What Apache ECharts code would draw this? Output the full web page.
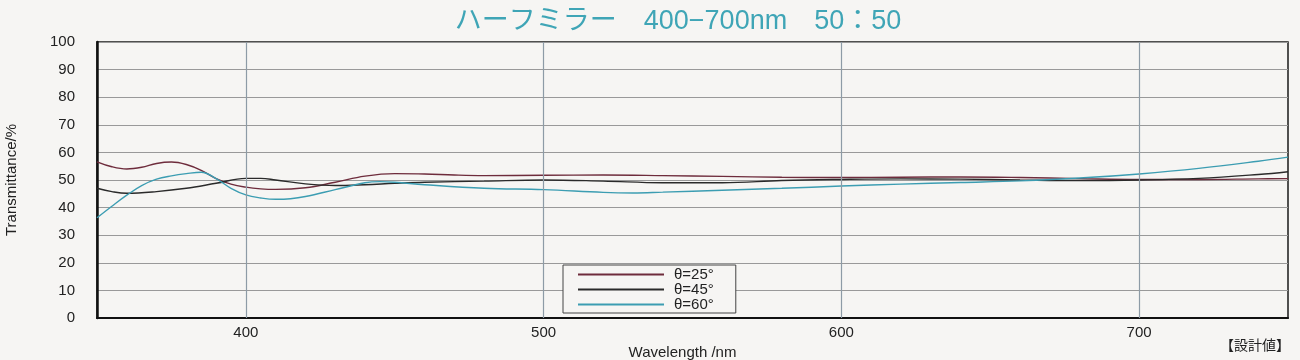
<!DOCTYPE html>
<html><head><meta charset="utf-8">
<script src="https://cdn.jsdelivr.net/npm/echarts@6/dist/echarts.min.js"></script>
<style>html,body{margin:0;padding:0;background:#f6f5f3}#c{width:1300px;height:360px}</style>
</head><body><div id="c"></div>
<script>
const titleText = 'ハーフミラー　400−700nm　50：50';
const xTicks = [400, 500, 600, 700];
const seriesNames = ['θ=25°', 'θ=45°', 'θ=60°'];
const wl25 = [350,355,360,365,370,375,380,385,390,395,400,405,410,420,430,440,450,460,470,480,500,520,540,560,580,600,620,640,660,680,700,720,740,750];
const t25  = [56.6,54.8,54.0,54.6,56.0,56.5,55.6,53.5,50.5,48.5,47.4,46.8,46.6,47.2,49.2,51.4,52.3,52.2,51.8,51.6,51.7,51.8,51.6,51.3,51.0,50.9,51.0,51.1,50.9,50.5,50.2,50.2,50.4,50.5];
const wl45 = [350,355,360,370,380,390,400,405,410,420,430,440,450,460,480,500,520,540,560,580,600,620,640,660,680,700,720,740,750];
const t45  = [47.0,45.8,45.2,45.8,47.0,48.8,50.6,50.6,50.0,48.6,48.0,48.3,48.8,49.2,49.6,50.0,49.6,49.0,49.0,49.8,50.2,50.4,50.3,50.0,49.8,50.0,50.6,52.0,53.0];
const wl60 = [350,355,360,365,370,375,380,385,390,395,400,405,410,415,420,430,440,445,450,460,480,500,520,530,540,560,580,600,620,640,660,680,700,720,740,750];
const t60  = [36.3,40.5,44.5,48.0,50.3,51.5,52.3,52.8,50.5,47.0,44.6,43.5,43.0,43.2,44.0,46.5,49.0,49.4,49.2,48.3,47.0,46.5,45.5,45.3,45.6,46.3,47.0,47.8,48.5,49.1,49.7,50.7,52.2,54.2,56.8,58.3];
const colors = ['#6e2c3c', '#2a2a2a', '#3c9db2'];

function pairs(xs, ys){ return xs.map((x,i)=>[x, ys[i]]); }

const chart = echarts.init(document.getElementById('c'), null, {renderer:'canvas'});
chart.setOption({
  backgroundColor: '#f6f5f3',
  animation: false,
  title: {
    text: titleText, left: 673, top: 3, textAlign: 'center',
    textStyle: {color: '#3fa5b6', fontSize: 27, fontWeight: 'normal', fontFamily: 'Liberation Sans, Noto Sans CJK JP'}
  },
  grid: {left: 97, right: 12, top: 42, bottom: 42, show: true, borderColor: '#1a1a1a', borderWidth: 1.5,
         backgroundColor: 'transparent', outerBoundsMode: 'none', containLabel: false},
  legend: {
    orient: 'vertical', left: 563, top: 265,
    data: seriesNames,
    itemWidth: 86, itemHeight: 2, itemGap: 0,
    icon: 'rect',
    padding: [2, 22, 1, 15],
    borderColor: '#444', borderWidth: 1, backgroundColor: '#f6f5f3',
    textStyle: {fontSize: 15, color: '#222', fontFamily: 'Liberation Sans', lineHeight: 12, padding: [0,0,0,5]}
  },
  xAxis: {
    type: 'value', min: 350, max: 750, interval: 50,
    name: 'Wavelength /nm', nameLocation: 'middle', nameGap: 22,
    nameTextStyle: {fontSize: 15, color: '#222', fontFamily: 'Liberation Sans', padding: [0,0,0,-20]},
    axisLine: {show: true, lineStyle: {color: '#111', width: 2}},
    axisTick: {show: false},
    axisLabel: {fontSize: 15, color: '#222', fontFamily: 'Liberation Sans', margin: 7,
      formatter: v => xTicks.includes(v) ? String(v) : ''},
    splitLine: {show: false}
  },
  yAxis: {
    type: 'value', min: 0, max: 100, interval: 10,
    name: 'Transmittance/%', nameLocation: 'middle', nameGap: 78, nameRotate: 90,
    nameTextStyle: {fontSize: 15, color: '#222', fontFamily: 'Liberation Sans'},
    axisLine: {show: true, lineStyle: {color: '#111', width: 2.5}},
    axisTick: {show: false},
    axisLabel: {fontSize: 15, color: '#222', fontFamily: 'Liberation Sans', margin: 22},
    splitLine: {show: true, lineStyle: {color: '#999', width: 1.2}}
  },
  graphic: [{
    type: 'text', right: 10, top: 338,
    style: {text: '【設計値】', fontSize: 14, fill: '#222', fontFamily: 'Noto Sans CJK JP'}
  }],
  series: [
    {name: seriesNames[0], type: 'line', data: pairs(wl25, t25), smooth: 0.4, showSymbol: false, z: 3,
     lineStyle: {color: colors[0], width: 1.4}, itemStyle: {color: colors[0]},
     markLine: {silent: true, symbol: 'none', label: {show: false}, animation: false,
       lineStyle: {color: '#8d9ba6', width: 1.2, type: 'solid'},
       data: xTicks.map(v => ({xAxis: v}))}},
    {name: seriesNames[1], type: 'line', data: pairs(wl45, t45), smooth: 0.4, showSymbol: false, z: 3,
     lineStyle: {color: colors[1], width: 1.4}, itemStyle: {color: colors[1]}},
    {name: seriesNames[2], type: 'line', data: pairs(wl60, t60), smooth: 0.4, showSymbol: false, z: 3,
     lineStyle: {color: colors[2], width: 1.4}, itemStyle: {color: colors[2]}}
  ]
});
</script></body></html>
